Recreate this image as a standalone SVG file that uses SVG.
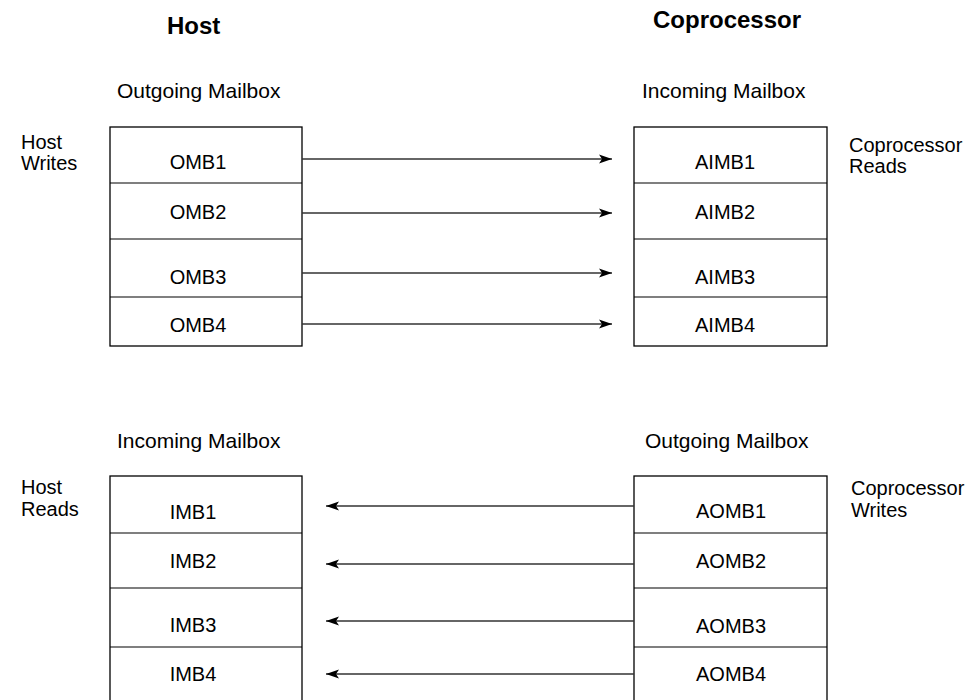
<svg xmlns="http://www.w3.org/2000/svg" width="980" height="700" viewBox="0 0 980 700">
  <style>
    .box { fill: #ffffff; stroke: #000000; stroke-width: 1.3; }
    .div { stroke: #000000; stroke-width: 1.2; }
    .head { font-family: "Liberation Sans", Arial, sans-serif; font-size: 24px; font-weight: bold; fill: #000; }
    .lbl { font-family: "Liberation Sans", Arial, sans-serif; font-size: 21px; fill: #000; }
    .reg { font-family: "Liberation Sans", Arial, sans-serif; font-size: 20px; fill: #000; text-anchor: middle; }
    .side { font-family: "Liberation Sans", Arial, sans-serif; font-size: 20px; fill: #000; }
    .wire { stroke: #333333; stroke-width: 1.3; fill: none; }
  </style>
  <defs>
    <marker id="arrow" viewBox="0 0 13 10" refX="13" refY="5" markerWidth="13" markerHeight="10" markerUnits="userSpaceOnUse" orient="auto">
      <path d="M0,0.5 L13,5 L0,9.5 L3,5 Z" fill="#000"/>
    </marker>
  </defs>
  <rect width="980" height="700" fill="#ffffff"/>

  <!-- headings -->
  <text class="head" x="167" y="34">Host</text>
  <text class="head" x="653" y="28">Coprocessor</text>
  <text class="lbl" x="117" y="98">Outgoing Mailbox</text>
  <text class="lbl" x="642" y="98">Incoming Mailbox</text>
  <text class="lbl" x="117" y="448">Incoming Mailbox</text>
  <text class="lbl" x="645" y="448">Outgoing Mailbox</text>

  <!-- side labels -->
  <text class="side" x="21" y="149">Host<tspan x="21" y="170">Writes</tspan></text>
  <text class="side" x="849" y="152">Coprocessor<tspan x="849" y="173">Reads</tspan></text>
  <text class="side" x="21" y="494">Host<tspan x="21" y="516">Reads</tspan></text>
  <text class="side" x="851" y="495">Coprocessor<tspan x="851" y="517">Writes</tspan></text>

  <!-- host outgoing mailbox -->
  <g id="host-outgoing">
    <rect class="box" x="110" y="127" width="192" height="219"/>
    <line class="div" x1="110" y1="183" x2="302" y2="183"/>
    <line class="div" x1="110" y1="239" x2="302" y2="239"/>
    <line class="div" x1="110" y1="297" x2="302" y2="297"/>
    <text class="reg" x="198" y="169">OMB1</text>
    <text class="reg" x="198" y="219">OMB2</text>
    <text class="reg" x="198" y="284">OMB3</text>
    <text class="reg" x="198" y="332">OMB4</text>
  </g>

  <!-- coprocessor incoming mailbox -->
  <g id="cop-incoming">
    <rect class="box" x="634" y="127" width="193" height="219"/>
    <line class="div" x1="634" y1="183" x2="827" y2="183"/>
    <line class="div" x1="634" y1="239" x2="827" y2="239"/>
    <line class="div" x1="634" y1="297" x2="827" y2="297"/>
    <text class="reg" x="725" y="169">AIMB1</text>
    <text class="reg" x="725" y="219">AIMB2</text>
    <text class="reg" x="725" y="284">AIMB3</text>
    <text class="reg" x="725" y="332">AIMB4</text>
  </g>

  <!-- host incoming mailbox -->
  <g id="host-incoming">
    <rect class="box" x="110" y="476" width="192" height="230"/>
    <line class="div" x1="110" y1="533" x2="302" y2="533"/>
    <line class="div" x1="110" y1="588" x2="302" y2="588"/>
    <line class="div" x1="110" y1="647" x2="302" y2="647"/>
    <text class="reg" x="193" y="519">IMB1</text>
    <text class="reg" x="193" y="568">IMB2</text>
    <text class="reg" x="193" y="632">IMB3</text>
    <text class="reg" x="193" y="681">IMB4</text>
  </g>

  <!-- coprocessor outgoing mailbox -->
  <g id="cop-outgoing">
    <rect class="box" x="634" y="476" width="193" height="230"/>
    <line class="div" x1="634" y1="533" x2="827" y2="533"/>
    <line class="div" x1="634" y1="588" x2="827" y2="588"/>
    <line class="div" x1="634" y1="647" x2="827" y2="647"/>
    <text class="reg" x="731" y="518">AOMB1</text>
    <text class="reg" x="731" y="568">AOMB2</text>
    <text class="reg" x="731" y="633">AOMB3</text>
    <text class="reg" x="731" y="681">AOMB4</text>
  </g>

  <!-- connectors -->
  <g id="connectors">
    <line class="wire" x1="302" y1="159" x2="612" y2="159" marker-end="url(#arrow)"/>
    <line class="wire" x1="302" y1="213" x2="612" y2="213" marker-end="url(#arrow)"/>
    <line class="wire" x1="302" y1="273" x2="612" y2="273" marker-end="url(#arrow)"/>
    <line class="wire" x1="302" y1="324" x2="612" y2="324" marker-end="url(#arrow)"/>
    <line class="wire" x1="634" y1="506" x2="326" y2="506" marker-end="url(#arrow)"/>
    <line class="wire" x1="634" y1="564" x2="326" y2="564" marker-end="url(#arrow)"/>
    <line class="wire" x1="634" y1="621" x2="326" y2="621" marker-end="url(#arrow)"/>
    <line class="wire" x1="634" y1="674" x2="326" y2="674" marker-end="url(#arrow)"/>
  </g>
</svg>
